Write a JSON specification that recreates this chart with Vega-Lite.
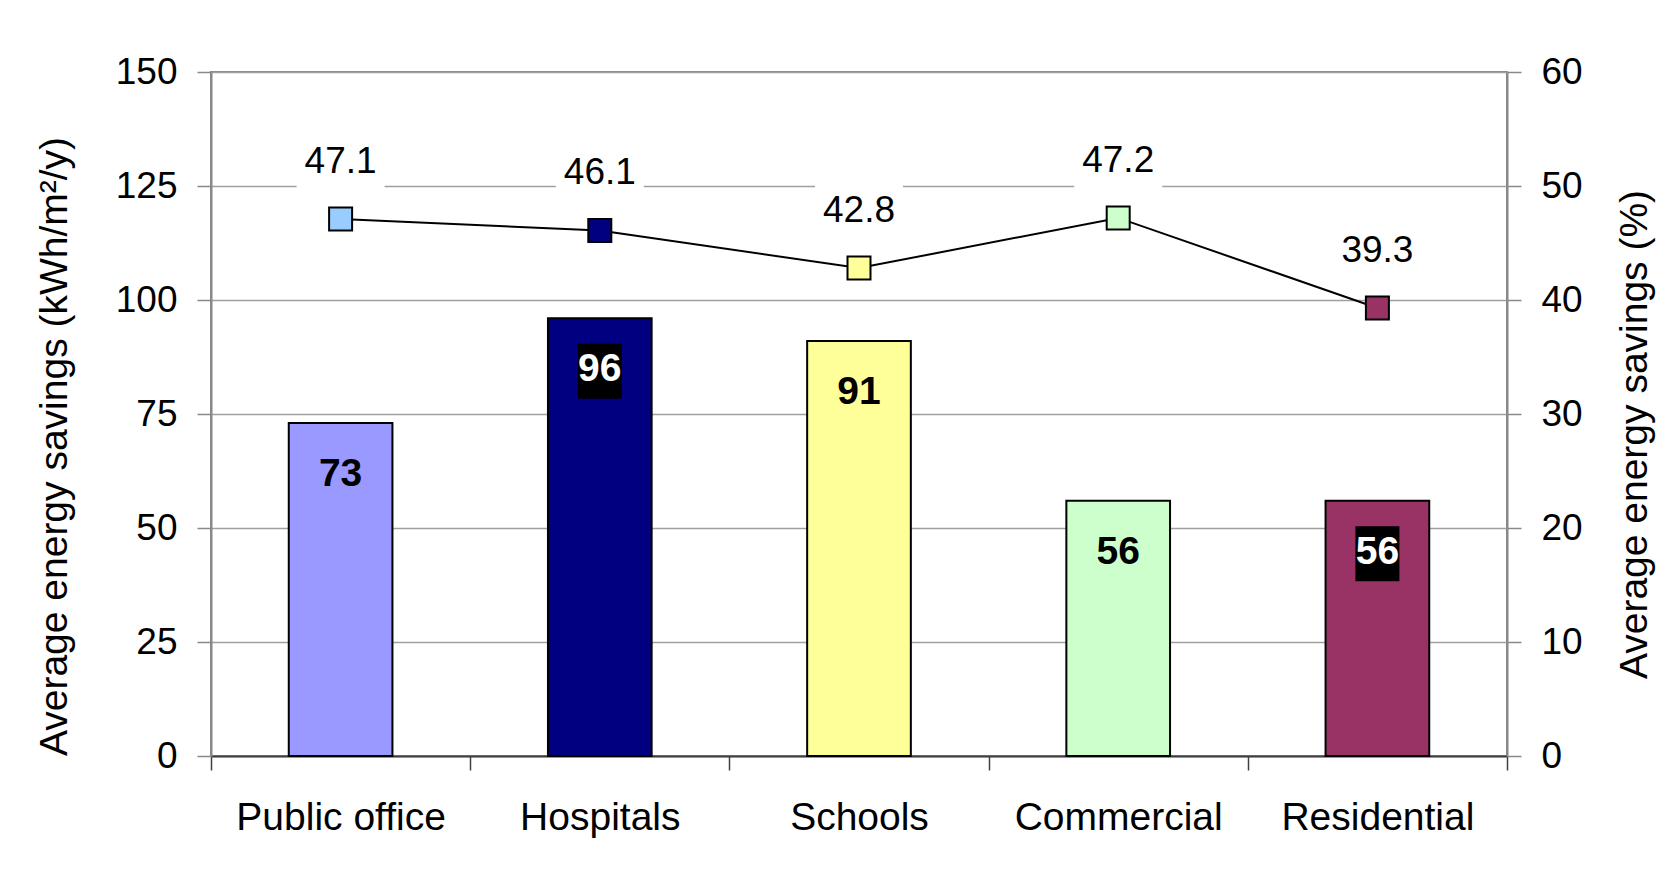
{
  "$schema": "https://vega.github.io/schema/vega-lite/v6.json",
  "width": 1296,
  "height": 684,
  "autosize": {"type": "none"},
  "padding": {"left": 211, "top": 72, "right": 173, "bottom": 120},
  "background": "white",
  "config": {
    "view": {"stroke": "#888888", "strokeWidth": 2},
    "font": "Liberation Sans",
    "axis": {"labelFont": "Liberation Sans", "titleFont": "Liberation Sans"}
  },
  "data": {
    "values": [
      {"sector": "Public office", "kwh": 73, "pct": 47.1},
      {"sector": "Hospitals", "kwh": 96, "pct": 46.1},
      {"sector": "Schools", "kwh": 91, "pct": 42.8},
      {"sector": "Commercial", "kwh": 56, "pct": 47.2},
      {"sector": "Residential", "kwh": 56, "pct": 39.3}
    ]
  },
  "encoding": {
    "x": {
      "field": "sector",
      "type": "nominal",
      "sort": null,
      "scale": {"paddingInner": 0, "paddingOuter": 0},
      "axis": {
        "title": null,
        "labelAngle": 0,
        "labelFontSize": 39,
        "labelColor": "black",
        "labelLimit": 0,
        "labelPadding": 28,
        "labelBaseline": "top",
        "tickBand": "extent",
        "tickSize": 14,
        "tickColor": "#404040",
        "tickWidth": 1.5,
        "domainColor": "#404040",
        "domainWidth": 2,
        "grid": false
      }
    }
  },
  "layer": [
    {
      "encoding": {
        "y": {
          "field": "kwh",
          "type": "quantitative",
          "scale": {"domain": [0, 150], "nice": false},
          "axis": {
            "title": "Average energy savings (kWh/m²/y)",
            "values": [0, 25, 50, 75, 100, 125, 150],
            "labelFontSize": 37,
            "labelColor": "black",
            "labelFlush": false,
            "labelOverlap": false,
            "labelPadding": 20,
            "titleFontSize": 39,
            "titleFontWeight": "normal",
            "titleColor": "black",
            "titlePadding": 41,
            "titleY": 374,
            "tickSize": 14,
            "tickColor": "#888888",
            "tickWidth": 1.5,
            "domainColor": "#888888",
            "domainWidth": 2,
            "grid": true,
            "gridColor": "#a0a0a0",
            "gridWidth": 1.5
          }
        }
      },
      "layer": [
        {
          "mark": {"type": "bar", "stroke": "black", "strokeWidth": 2, "width": {"band": 0.4}},
          "encoding": {
            "color": {
              "field": "sector",
              "type": "nominal",
              "scale": {
                "domain": ["Public office", "Hospitals", "Schools", "Commercial", "Residential"],
                "range": ["#9999FF", "#000080", "#FFFF99", "#CCFFCC", "#993366"]
              },
              "legend": null
            }
          }
        },
        {
          "transform": [{"filter": "datum.sector === 'Hospitals' || datum.sector === 'Residential'"}],
          "mark": {
            "type": "point",
            "shape": "M-1,-1.25H1V1.25H-1Z",
            "size": 1936,
            "filled": true,
            "fill": "black",
            "strokeWidth": 0,
            "opacity": 1,
            "yOffset": 53
          }
        },
        {
          "mark": {"type": "text", "fontSize": 39, "fontWeight": "bold", "baseline": "alphabetic", "align": "center", "dy": 63},
          "encoding": {
            "text": {"field": "kwh", "type": "quantitative"},
            "color": {
              "condition": {"test": "datum.sector === 'Hospitals' || datum.sector === 'Residential'", "value": "white"},
              "value": "black"
            }
          }
        }
      ]
    },
    {
      "encoding": {
        "y": {
          "field": "pct",
          "type": "quantitative",
          "scale": {"domain": [0, 60], "nice": false},
          "axis": {
            "orient": "right",
            "title": "Average energy savings (%)",
            "values": [0, 10, 20, 30, 40, 50, 60],
            "labelFontSize": 37,
            "labelColor": "black",
            "labelFlush": false,
            "labelOverlap": false,
            "labelPadding": 20,
            "titleFontSize": 39,
            "titleFontWeight": "normal",
            "titleColor": "black",
            "titleAngle": -90,
            "titleBaseline": "top",
            "titlePadding": 33,
            "titleY": 362,
            "tickSize": 14,
            "tickColor": "#888888",
            "tickWidth": 1.5,
            "domainColor": "#888888",
            "domainWidth": 2,
            "grid": false
          }
        }
      },
      "layer": [
        {"mark": {"type": "line", "color": "black", "strokeWidth": 2}},
        {
          "mark": {"type": "point", "shape": "square", "size": 529, "filled": true, "stroke": "black", "strokeWidth": 2, "opacity": 1},
          "encoding": {
            "fill": {
              "field": "sector",
              "type": "nominal",
              "scale": {
                "domain": ["Public office", "Hospitals", "Schools", "Commercial", "Residential"],
                "range": ["#99CCFF", "#000080", "#FFFF99", "#CCFFCC", "#993366"]
              },
              "legend": null
            }
          }
        },
        {
          "mark": {
            "type": "point",
            "shape": "M-1,-0.705H1V0.705H-1Z",
            "size": 7744,
            "filled": true,
            "fill": "white",
            "strokeWidth": 0,
            "opacity": 1,
            "yOffset": -55
          }
        },
        {
          "mark": {"type": "text", "fontSize": 37, "baseline": "alphabetic", "align": "center", "dy": -46, "color": "black"},
          "encoding": {"text": {"field": "pct", "type": "quantitative", "format": ".1f"}}
        }
      ]
    }
  ],
  "resolve": {"scale": {"y": "independent"}}
}
